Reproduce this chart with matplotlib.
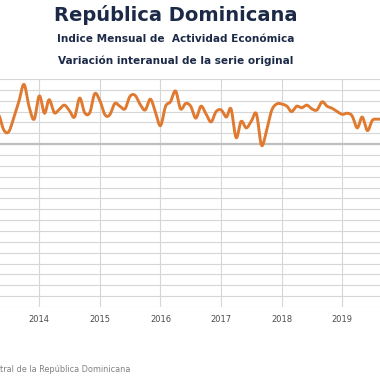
import matplotlib
matplotlib.use('Agg')
import matplotlib.pyplot as plt
import matplotlib.dates as mdates
import numpy as np
import pandas as pd

# Variacion interanual del IMAE (%), mensual desde mayo 2013
start_month = '2013-05-01'
variacion = [5.4, 2.6, 2.3, 5.0, 8.0, 11.0, 6.8, 4.6,
             8.9, 5.7, 8.2, 5.8, 6.4, 7.2, 6.2, 5.0, 8.5, 5.8, 5.8, 9.3,
             8.0, 5.4, 5.4, 7.5, 7.0, 6.5, 8.8, 9.0, 7.3, 6.3, 8.3, 6.0,
             3.4, 7.0, 7.8, 9.8, 6.5, 7.5, 7.0, 4.8, 7.0, 5.6, 4.1, 6.0,
             6.3, 5.0, 6.5, 1.2, 4.2, 3.0, 4.2, 5.6, -0.2, 2.5, 6.2, 7.4,
             7.4, 7.0, 6.0, 7.0, 6.7, 7.2, 6.5, 6.3, 7.8, 7.0, 6.6, 6.0,
             5.5, 5.7, 5.2, 3.0, 5.0, 2.5, 4.4, 4.6, 4.6]
years = [2014, 2015, 2016, 2017, 2018, 2019]
y_ticks = list(range(-30, 13, 2))

title = 'República Dominicana'
sub1 = 'Indice Mensual de  Actividad Económica'
sub2 = 'Variación interanual de la serie original'
source = 'tral de la República Dominicana'  # lo visible de la nota de fuente

NAVY = '#1c2a48'
ORANGE = '#e07a30'
GRID = '#d6d6d6'


def smooth(x, y, n=12):
    # curva tipo Catmull-Rom, como la linea suavizada de Excel
    x = np.asarray(x, float)
    y = np.asarray(y, float)
    px = np.r_[2 * x[0] - x[1], x, 2 * x[-1] - x[-2]]
    py = np.r_[y[0], y, y[-1]]
    xs, ys = [], []
    t = np.linspace(0, 1, n, endpoint=False)
    for i in range(1, len(px) - 2):
        for arr, out in ((px, xs), (py, ys)):
            p0, p1, p2, p3 = arr[i - 1], arr[i], arr[i + 1], arr[i + 2]
            out.extend(0.5 * ((2 * p1) + (-p0 + p2) * t
                              + (2 * p0 - 5 * p1 + 4 * p2 - p3) * t ** 2
                              + (-p0 + 3 * p1 - 3 * p2 + p3) * t ** 3))
    xs.append(x[-1])
    ys.append(y[-1])
    return np.array(xs), np.array(ys)


dates = pd.date_range(start_month, periods=len(variacion), freq='MS')
xnum = mdates.date2num(dates)
sx, sy = smooth(xnum, variacion)

fig = plt.figure(figsize=(3.8, 3.8), dpi=100, facecolor='white')
ax = fig.add_axes([0, 0.192, 1, 0.600])

ax.set_ylim(-30, 12)
ax.set_yticks(y_ticks)
ax.set_xlim(mdates.date2num(pd.Timestamp('2013-05-09')),
            mdates.date2num(pd.Timestamp('2019-08-16')))
ax.set_xticks(mdates.date2num([pd.Timestamp(f'{y}-01-01') for y in years]))
ax.set_xticklabels([str(y) for y in years])

ax.grid(True, color=GRID, lw=0.8)
ax.set_axisbelow(True)
for s in ax.spines.values():
    s.set_visible(False)
ax.tick_params(axis='y', left=False, labelleft=False)
ax.tick_params(axis='x', length=0, pad=6, labelsize=6, labelcolor='#4d4d4d')

ax.axhline(0, color='#bfbfbf', lw=1.6, zorder=1)
ax.plot(sx, sy, color=ORANGE, lw=2.1, solid_capstyle='round', zorder=3)

fig.text(0.463, 0.960, title, ha='center', va='center', fontsize=14,
         fontweight='bold', color=NAVY)
fig.text(0.463, 0.897, sub1, ha='center', va='center', fontsize=7.6,
         fontweight='bold', color=NAVY)
fig.text(0.463, 0.840, sub2, ha='center', va='center', fontsize=7.6,
         fontweight='bold', color=NAVY)
fig.text(0.0, 1 - 370 / 380, source, ha='left', va='center',
         fontsize=5.9, color='#808080')

fig.savefig('out.png', dpi=100, facecolor='white')
